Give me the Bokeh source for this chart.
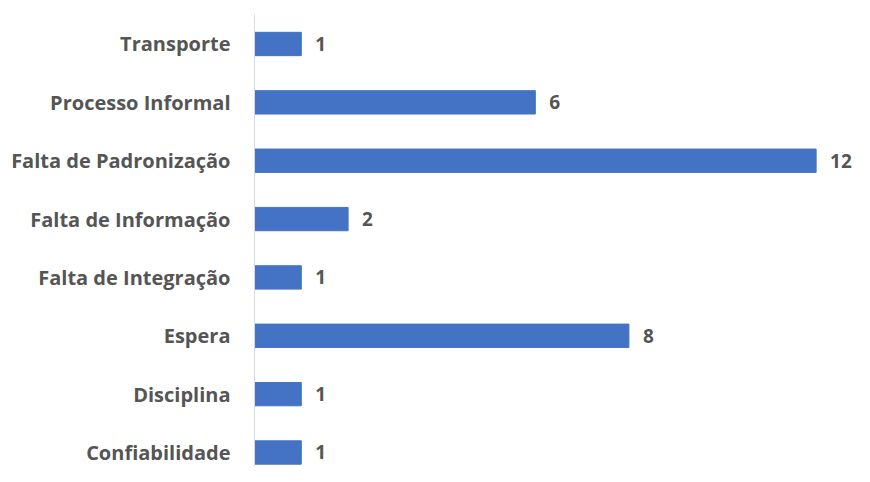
from bokeh.plotting import figure
from bokeh.models import Range1d, FixedTicker, ColumnDataSource
from bokeh.core.properties import value
from bokeh.embed import file_html
from bokeh.resources import INLINE

categories = ["Transporte", "Processo Informal", "Falta de Padronização",
              "Falta de Informação", "Falta de Integração", "Espera",
              "Disciplina", "Confiabilidade"]
counts = [1, 6, 12, 2, 1, 8, 1, 1]

positions = list(range(len(categories)))
src = ColumnDataSource(dict(y=positions, v=counts, lab=[str(c) for c in counts]))

FONT = "Open Sans"
GRAY = "#555555"

p = figure(width=854, height=466, output_backend="svg", toolbar_location=None,
           x_range=Range1d(0, 12.82), y_range=Range1d(7.24, -0.5055),
           x_axis_location=None, y_axis_location="left")
p.min_border_left = 254
p.min_border_right = 0
p.min_border_top = 14
p.min_border_bottom = 0
p.outline_line_color = None
p.grid.visible = False
p.background_fill_color = "white"
p.border_fill_color = "white"

p.hbar(y="y", left=0, right="v", height=0.40, source=src,
       fill_color="#4472C4", line_color="#4472C4")
p.text(x="v", y="y", text="lab", source=src, x_offset=14,
       text_baseline="middle", text_align="left",
       text_font=value(FONT), text_font_style="bold",
       text_font_size="19px", text_color=GRAY)

ax = p.yaxis[0]
ax.ticker = FixedTicker(ticks=positions)
ax.major_label_overrides = {i: c for i, c in zip(positions, categories)}
ax.axis_line_color = "#d9d9d9"
ax.axis_line_width = 1
ax.major_tick_line_color = None
ax.minor_tick_line_color = None
ax.major_tick_out = 0
ax.major_label_standoff = 24
ax.major_label_text_font = FONT
ax.major_label_text_font_style = "bold"
ax.major_label_text_font_size = "20px"
ax.major_label_text_color = GRAY

open("out.html", "w").write(file_html(p, INLINE))
